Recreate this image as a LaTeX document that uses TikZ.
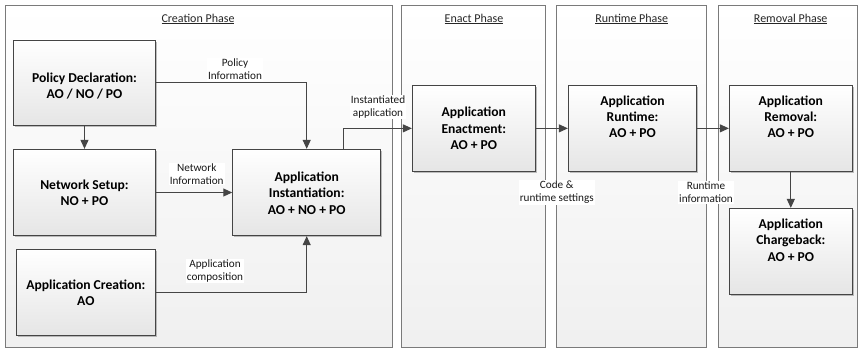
\documentclass[tikz,border=0pt]{standalone}
\usepackage{fontspec}
\setmainfont{Carlito}
\usetikzlibrary{arrows.meta,shadows}

\definecolor{edge}{HTML}{454545}
\definecolor{frame}{HTML}{7A7A7A}

\tikzset{
  phase/.style={draw=frame, line width=0.9pt, rectangle, anchor=center,
    top color=white, bottom color=black!6, inner sep=0pt},
  phasetitle/.style={font=\fontsize{12}{14}\selectfont, text=black!85, inner sep=0pt},
  stage/.style={draw=edge, line width=0.9pt, rectangle, inner sep=0pt,
    top color=white, bottom color=black!10,
    drop shadow={shadow xshift=1.6pt, shadow yshift=-1.6pt, opacity=0.45, fill=black!55}},
  stagetext/.style={font=\fontsize{13.6}{16.3}\selectfont\bfseries, align=center, inner sep=0pt},
  flow/.style={draw=edge, line width=1pt, -{Triangle[length=9pt, width=8pt]}},
  note/.style={fill=white, font=\fontsize{11.2}{12.9}\selectfont, align=center,
    text=black!90, inner sep=1pt}
}

\begin{document}
\begin{tikzpicture}[x=1pt, y=-1pt]
  \useasboundingbox (0,0) rectangle (859,349);

  % phase frames
  \node[phase, minimum width=387pt, minimum height=342pt] (creation) at (198.5,176) {};
  \node[phase, minimum width=144.7pt, minimum height=342pt] (enact) at (473.35,176) {};
  \node[phase, minimum width=150pt, minimum height=342pt] (runtime) at (631.7,176) {};
  \node[phase, minimum width=139pt, minimum height=342pt] (removal) at (787.8,176) {};

  \node[phasetitle] (creationtitle) at (198,19) {\underline{Creation Phase}};
  \node[phasetitle] (enacttitle) at (474,19) {\underline{Enact Phase}};
  \node[phasetitle] (runtimetitle) at (631.7,19) {\underline{Runtime Phase}};
  \node[phasetitle] (removaltitle) at (790.7,19) {\underline{Removal Phase}};

  % stage boxes
  \node[stage, minimum width=142.4pt, minimum height=85.7pt] (pol) at (84.5,82.8) {};
  \node[stage, minimum width=142.4pt, minimum height=86.4pt] (net) at (84.5,192.5) {};
  \node[stage, minimum width=139.7pt, minimum height=86pt] (cre) at (85.85,292) {};
  \node[stage, minimum width=148pt, minimum height=86.4pt] (inst) at (306.7,192.5) {};
  \node[stage, minimum width=123pt, minimum height=85.3pt] (enactbox) at (473.8,128.35) {};
  \node[stage, minimum width=128.4pt, minimum height=85.3pt] (run) at (632.5,128.35) {};
  \node[stage, minimum width=123pt, minimum height=85.3pt] (rem) at (790.8,128.35) {};
  \node[stage, minimum width=123pt, minimum height=85.7pt] (chg) at (790.8,251.2) {};

  % stage texts
  \node[stagetext] (poltxt) at (84.5,86.3) {Policy Declaration:\\AO / NO / PO};
  \node[stagetext] (nettxt) at (84.5,193) {Network Setup:\\NO + PO};
  \node[stagetext] (cretxt) at (85.85,292.7) {Application Creation:\\AO};
  \node[stagetext] (insttxt) at (306.7,193) {Application\\Instantiation:\\AO + NO + PO};
  \node[stagetext] (enacttxt) at (473.8,128.3) {Application\\Enactment:\\AO + PO};
  \node[stagetext] (runtxt) at (632.5,116.7) {Application\\Runtime:\\AO + PO};
  \node[stagetext] (remtxt) at (790.8,116.7) {Application\\Removal:\\AO + PO};
  \node[stagetext] (chgtxt) at (790.8,240.2) {Application\\Chargeback:\\AO + PO};

  % flows
  \coordinate (instout) at ([xshift=36.6pt]inst.north);
  \draw[flow] (pol) -- (net);
  \draw[flow] (pol.east) -| (inst.north);
  \draw[flow] (net) -- (inst);
  \draw[flow] (cre.east) -| (inst.south);
  \draw[flow] (instout) |- (enactbox.west);
  \draw[flow] (enactbox) -- (run);
  \draw[flow] (run) -- (rem);
  \draw[flow] (rem) -- (chg);

  % flow labels
  \node[note] (polnote) at (235,69.5) {Policy\\Information};
  \node[note] (netnote) at (196.7,174) {Network\\Information};
  \node[note] (crenote) at (215,271) {Application\\composition};
  \node[note] (instnote) at (378,107) {Instantiated\\application};
  \node[note] (codenote) at (556.7,192.3) {Code \&\\runtime settings};
  \node[note] (runnote) at (706,192.3) {Runtime\\information};
\end{tikzpicture}
\end{document}
